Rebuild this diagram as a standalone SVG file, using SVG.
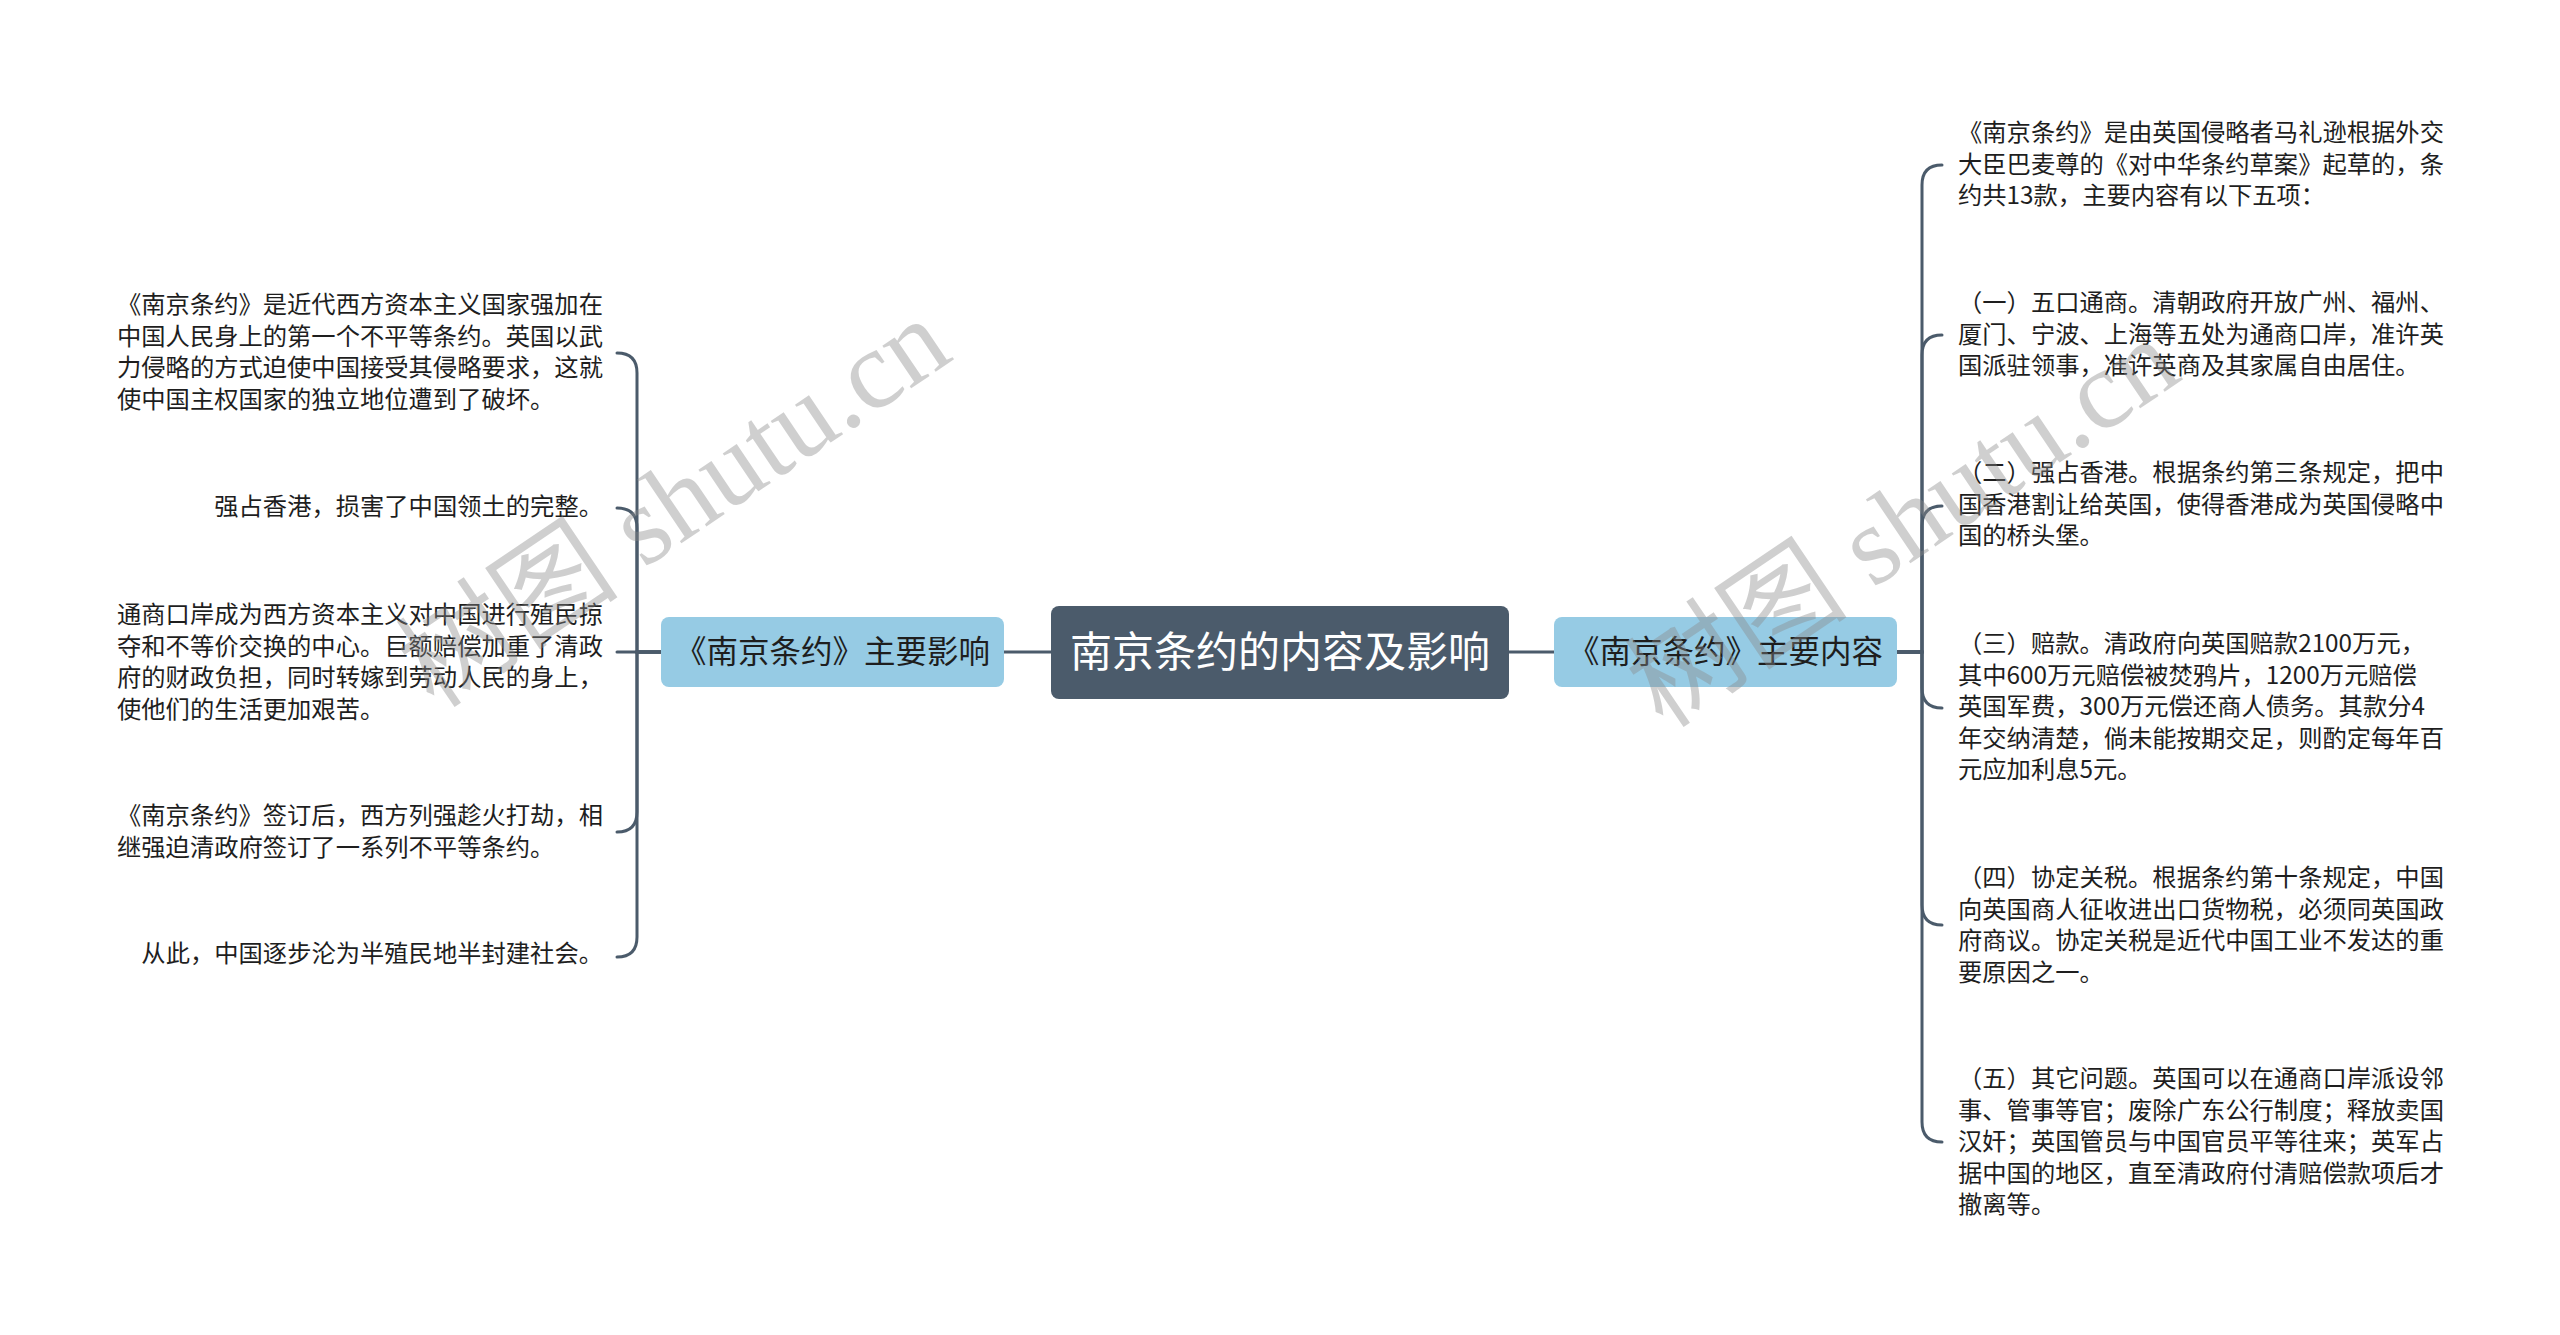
<svg xmlns="http://www.w3.org/2000/svg" width="2560" height="1335" viewBox="0 0 2560 1335">
<style>
.bg{fill:#ffffff}
.conn path{fill:none;stroke:#4b5b6b;stroke-width:3;stroke-linecap:round}
.root rect{fill:#4b5b6b}
.root text{fill:#ffffff;font-family:"Noto Sans CJK SC","Noto Sans",sans-serif;font-size:42px;text-anchor:middle}
.main rect{fill:#96cbe4}
.main text{fill:#1e1e1e;font-family:"Noto Sans CJK SC","Noto Sans",sans-serif;font-size:31.5px;text-anchor:middle}
.leaf text{fill:#1e1e1e;font-family:"Noto Sans CJK SC","Noto Sans",sans-serif;font-size:24.3px}
.leaf .r{text-anchor:end}
.wm{fill:#8a8a8a;opacity:0.4;font-size:112px}
</style>
<rect class="bg" x="0" y="0" width="2560" height="1335"/>

<g id="connectors" class="conn">
<path d="M1004,652 H1051"/>
<path d="M1509,652 H1554"/>
<path d="M661,652 H637 V373 Q637,353 617,353"/>
<path d="M661,652 H637 V528 Q637,508 617,508"/>
<path d="M661,652 H617"/>
<path d="M661,652 H637 V812 Q637,832 617,832"/>
<path d="M661,652 H637 V937 Q637,957 617,957"/>
<path d="M1897,652 H1922 V185 Q1922,165 1942,165"/>
<path d="M1897,652 H1922 V355 Q1922,335 1942,335"/>
<path d="M1897,652 H1922 V526 Q1922,506 1942,506"/>
<path d="M1897,652 H1922 V688 Q1922,708 1942,708"/>
<path d="M1897,652 H1922 V905 Q1922,925 1942,925"/>
<path d="M1897,652 H1922 V1122 Q1922,1142 1942,1142"/>
</g>

<g id="root" class="root">
<rect x="1051" y="606" width="458" height="93" rx="8"/>
<text x="1280" y="667">南京条约的内容及影响</text>
</g>

<g id="branch-left" class="main">
<rect x="661" y="617" width="343" height="70" rx="8"/>
<text x="832.5" y="663">《南京条约》主要影响</text>
</g>

<g id="branch-right" class="main">
<rect x="1554" y="617" width="343" height="70" rx="8"/>
<text x="1725.5" y="663">《南京条约》主要内容</text>
</g>

<g id="leaf-l1" class="leaf">
<text x="117" y="313">《南京条约》是近代西方资本主义国家强加在</text>
<text x="117" y="344.5">中国人民身上的第一个不平等条约。英国以武</text>
<text x="117" y="376">力侵略的方式迫使中国接受其侵略要求，这就</text>
<text x="117" y="407.5">使中国主权国家的独立地位遭到了破坏。</text>
</g>
<g id="leaf-l2" class="leaf">
<text class="r" x="603" y="515">强占香港，损害了中国领土的完整。</text>
</g>
<g id="leaf-l3" class="leaf">
<text x="117" y="623">通商口岸成为西方资本主义对中国进行殖民掠</text>
<text x="117" y="654.5">夺和不等价交换的中心。巨额赔偿加重了清政</text>
<text x="117" y="686">府的财政负担，同时转嫁到劳动人民的身上，</text>
<text x="117" y="717.5">使他们的生活更加艰苦。</text>
</g>
<g id="leaf-l4" class="leaf">
<text x="117" y="824">《南京条约》签订后，西方列强趁火打劫，相</text>
<text x="117" y="855.5">继强迫清政府签订了一系列不平等条约。</text>
</g>
<g id="leaf-l5" class="leaf">
<text class="r" x="603" y="962">从此，中国逐步沦为半殖民地半封建社会。</text>
</g>

<g id="leaf-r1" class="leaf">
<text x="1958" y="141">《南京条约》是由英国侵略者马礼逊根据外交</text>
<text x="1958" y="172.5">大臣巴麦尊的《对中华条约草案》起草的，条</text>
<text x="1958" y="204">约共13款，主要内容有以下五项：</text>
</g>
<g id="leaf-r2" class="leaf">
<text x="1958" y="311">（一）五口通商。清朝政府开放广州、福州、</text>
<text x="1958" y="342.5">厦门、宁波、上海等五处为通商口岸，准许英</text>
<text x="1958" y="374">国派驻领事，准许英商及其家属自由居住。</text>
</g>
<g id="leaf-r3" class="leaf">
<text x="1958" y="481">（二）强占香港。根据条约第三条规定，把中</text>
<text x="1958" y="512.5">国香港割让给英国，使得香港成为英国侵略中</text>
<text x="1958" y="544">国的桥头堡。</text>
</g>
<g id="leaf-r4" class="leaf">
<text x="1958" y="652">（三）赔款。清政府向英国赔款2100万元，</text>
<text x="1958" y="683.5">其中600万元赔偿被焚鸦片，1200万元赔偿</text>
<text x="1958" y="715">英国军费，300万元偿还商人债务。其款分4</text>
<text x="1958" y="746.5">年交纳清楚，倘未能按期交足，则酌定每年百</text>
<text x="1958" y="778">元应加利息5元。</text>
</g>
<g id="leaf-r5" class="leaf">
<text x="1958" y="886">（四）协定关税。根据条约第十条规定，中国</text>
<text x="1958" y="917.5">向英国商人征收进出口货物税，必须同英国政</text>
<text x="1958" y="949">府商议。协定关税是近代中国工业不发达的重</text>
<text x="1958" y="980.5">要原因之一。</text>
</g>
<g id="leaf-r6" class="leaf">
<text x="1958" y="1087">（五）其它问题。英国可以在通商口岸派设邻</text>
<text x="1958" y="1118.5">事、管事等官；废除广东公行制度；释放卖国</text>
<text x="1958" y="1150">汉奸；英国管员与中国官员平等往来；英军占</text>
<text x="1958" y="1181.5">据中国的地区，直至清政府付清赔偿款项后才</text>
<text x="1958" y="1213">撤离等。</text>
</g>

<g id="watermarks">
<text class="wm" x="676" y="540" text-anchor="middle" transform="rotate(-34 676 506)"><tspan font-family="Noto Sans CJK SC,sans-serif">树图</tspan><tspan font-family="Liberation Serif,serif"> shutu.cn</tspan></text>
<text class="wm" x="1905" y="560" text-anchor="middle" transform="rotate(-34 1905 526)"><tspan font-family="Noto Sans CJK SC,sans-serif">树图</tspan><tspan font-family="Liberation Serif,serif"> shutu.cn</tspan></text>
</g>
</svg>
